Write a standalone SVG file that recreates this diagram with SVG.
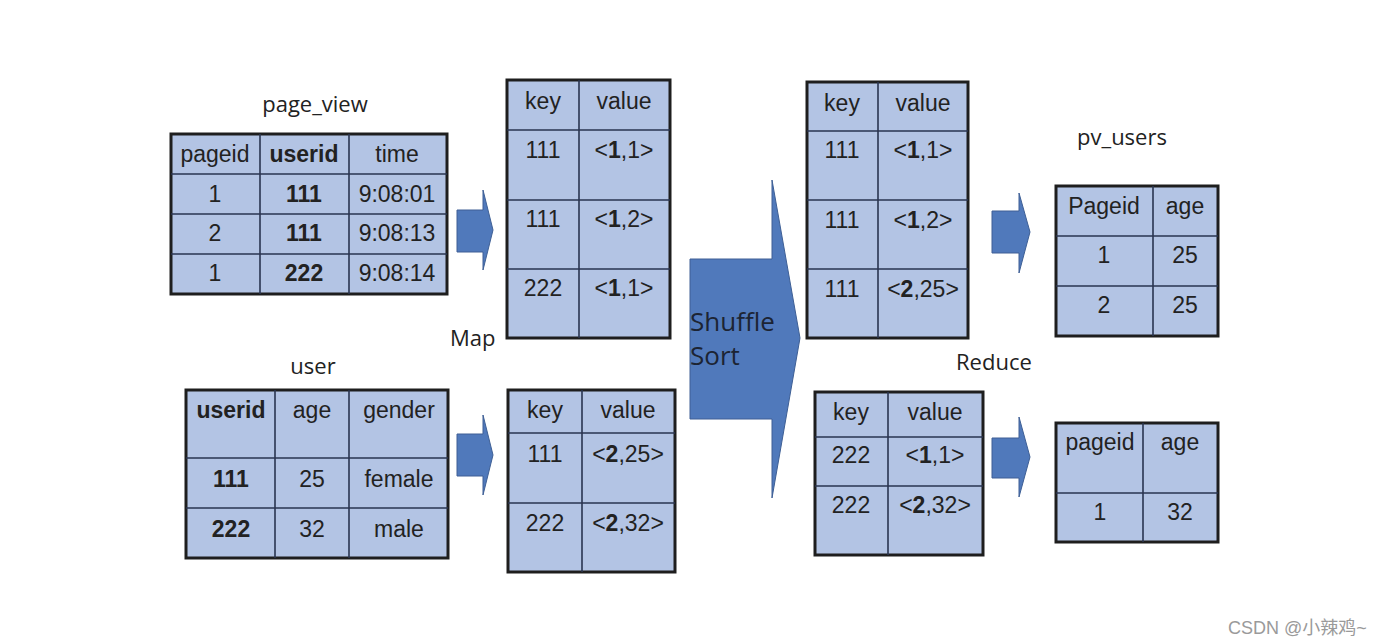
<svg xmlns="http://www.w3.org/2000/svg" width="1386" height="644" viewBox="0 0 1386 644">
<style>
.tb{fill:#b3c4e4;stroke:#1e1e1e;stroke-width:3}
.ln{stroke:#2a3550;stroke-width:1.6;fill:none}
.t{font-family:"Liberation Sans",Arial,sans-serif;font-size:23px;fill:#222;text-anchor:middle}
.b{font-weight:bold}
.lb{font-family:"Open Sans","Noto Sans",sans-serif;font-size:22px;fill:#222}
.ar{fill:#5079bb;stroke:#3e5f95;stroke-width:1}
.wm{font-family:"Liberation Sans","Noto Sans CJK SC",sans-serif;font-size:18px;fill:#9a9a9a}
</style>
<rect width="1386" height="644" fill="#fff"/>

<g id="page_view">
<text class="lb" x="315" y="112" text-anchor="middle">page_view</text>
<rect class="tb" x="171" y="134" width="276" height="160"/>
<path class="ln" d="M260 134V294M349 134V294M171 174H447M171 214H447M171 254H447"/>
<text class="t" x="215" y="162">pageid</text><text class="t b" x="304" y="162">userid</text><text class="t" x="397" y="162">time</text>
<text class="t" x="215" y="202">1</text><text class="t b" x="304" y="202">111</text><text class="t" x="397" y="202">9:08:01</text>
<text class="t" x="215" y="241">2</text><text class="t b" x="304" y="241">111</text><text class="t" x="397" y="241">9:08:13</text>
<text class="t" x="215" y="281">1</text><text class="t b" x="304" y="281">222</text><text class="t" x="397" y="281">9:08:14</text>
</g>

<g id="user">
<text class="lb" x="313" y="374" text-anchor="middle">user</text>
<rect class="tb" x="186" y="390" width="262" height="168"/>
<path class="ln" d="M275 390V558M349 390V558M186 458H448M186 508H448"/>
<text class="t b" x="231" y="418">userid</text><text class="t" x="312" y="418">age</text><text class="t" x="399" y="418">gender</text>
<text class="t b" x="231" y="487">111</text><text class="t" x="312" y="487">25</text><text class="t" x="399" y="487">female</text>
<text class="t b" x="231" y="537">222</text><text class="t" x="312" y="537">32</text><text class="t" x="399" y="537">male</text>
</g>

<g id="map1">
<rect class="tb" x="507" y="80" width="163" height="258"/>
<path class="ln" d="M579 80V338M507 130H670M507 200H670M507 269H670"/>
<text class="t" x="543" y="109">key</text><text class="t" x="624" y="109">value</text>
<text class="t" x="543" y="158">111</text><text class="t" x="624" y="158">&lt;<tspan class="b">1</tspan>,1&gt;</text>
<text class="t" x="543" y="227">111</text><text class="t" x="624" y="227">&lt;<tspan class="b">1</tspan>,2&gt;</text>
<text class="t" x="543" y="296">222</text><text class="t" x="624" y="296">&lt;<tspan class="b">1</tspan>,1&gt;</text>
</g>

<g id="map2">
<rect class="tb" x="508" y="390" width="167" height="182"/>
<path class="ln" d="M582 390V572M508 433H675M508 503H675"/>
<text class="t" x="545" y="418">key</text><text class="t" x="628" y="418">value</text>
<text class="t" x="545" y="462">111</text><text class="t" x="628" y="462">&lt;<tspan class="b">2</tspan>,25&gt;</text>
<text class="t" x="545" y="531">222</text><text class="t" x="628" y="531">&lt;<tspan class="b">2</tspan>,32&gt;</text>
</g>

<g id="shuffle1">
<rect class="tb" x="807" y="82" width="161" height="256"/>
<path class="ln" d="M878 82V338M807 131H968M807 200H968M807 269H968"/>
<text class="t" x="842" y="111">key</text><text class="t" x="923" y="111">value</text>
<text class="t" x="842" y="158">111</text><text class="t" x="923" y="158">&lt;<tspan class="b">1</tspan>,1&gt;</text>
<text class="t" x="842" y="228">111</text><text class="t" x="923" y="228">&lt;<tspan class="b">1</tspan>,2&gt;</text>
<text class="t" x="842" y="297">111</text><text class="t" x="923" y="297">&lt;<tspan class="b">2</tspan>,25&gt;</text>
</g>

<g id="shuffle2">
<rect class="tb" x="815" y="392" width="168" height="163"/>
<path class="ln" d="M888 392V555M815 437H983M815 486H983"/>
<text class="t" x="851" y="420">key</text><text class="t" x="935" y="420">value</text>
<text class="t" x="851" y="463">222</text><text class="t" x="935" y="463">&lt;<tspan class="b">1</tspan>,1&gt;</text>
<text class="t" x="851" y="513">222</text><text class="t" x="935" y="513">&lt;<tspan class="b">2</tspan>,32&gt;</text>
</g>

<g id="pv_users">
<text class="lb" x="1122" y="145" text-anchor="middle">pv_users</text>
<rect class="tb" x="1056" y="186" width="162" height="150"/>
<path class="ln" d="M1153 186V336M1056 236H1218M1056 286H1218"/>
<text class="t" x="1104" y="214">Pageid</text><text class="t" x="1185" y="214">age</text>
<text class="t" x="1104" y="263">1</text><text class="t" x="1185" y="263">25</text>
<text class="t" x="1104" y="313">2</text><text class="t" x="1185" y="313">25</text>
</g>

<g id="result2">
<rect class="tb" x="1056" y="423" width="162" height="119"/>
<path class="ln" d="M1143 423V542M1056 493H1218"/>
<text class="t" x="1100" y="450">pageid</text><text class="t" x="1180" y="450">age</text>
<text class="t" x="1100" y="520">1</text><text class="t" x="1180" y="520">32</text>
</g>

<g id="connectors">
<path class="ar" d="M457 210H483V190L493 230L483 270V252H457Z"/>
<path class="ar" d="M457 434H483V415L493 455L483 495V476H457Z"/>
<path class="ar" d="M690 259H772V180L800 338L772 498V419H690Z"/>
<path class="ar" d="M992 211H1019V193L1030 232L1019 273V253H992Z"/>
<path class="ar" d="M992 438H1019V417L1030 457L1019 497V478H992Z"/>
<text class="lb" x="450" y="346">Map</text>
<text class="lb" x="956" y="370">Reduce</text>
<text class="lb" x="690" y="331" style="font-size:26px;fill:#1c2433">Shuffle</text>
<text class="lb" x="690" y="365" style="font-size:26px;fill:#1c2433">Sort</text>
</g>

<text class="wm" x="1228" y="634">CSDN @小辣鸡~</text>
</svg>
